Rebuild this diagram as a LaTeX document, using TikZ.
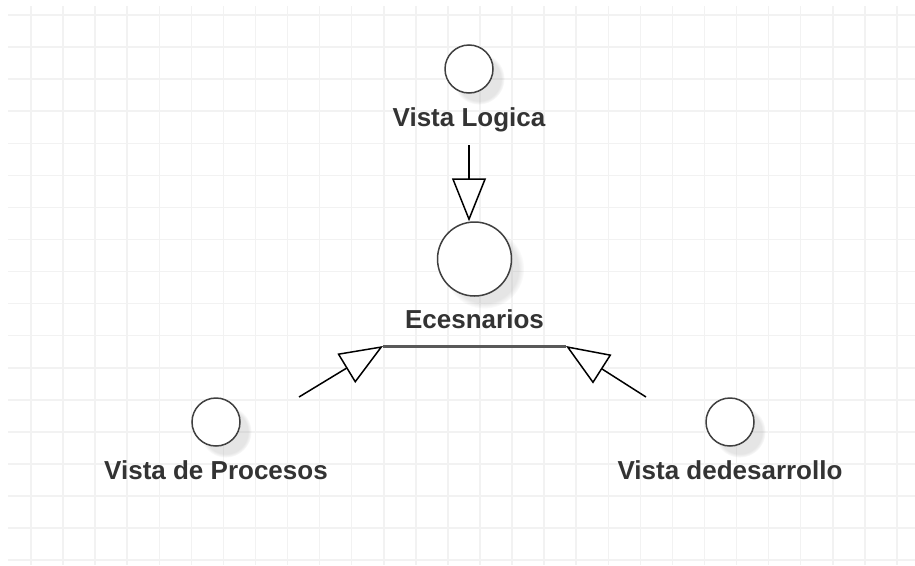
\documentclass[tikz,border=0pt]{standalone}
\usepackage{fontspec}
\setmainfont{Liberation Sans}
\usetikzlibrary{arrows.meta,shadows}

\begin{document}
\begin{tikzpicture}[x=1pt, y=-1pt,
    gridline/.style={draw=black!5, line width=1.5pt},
    view/.style={circle, draw=black!75, line width=1.5pt, fill=white, inner sep=0pt, minimum size=48pt,
        circular drop shadow={shadow xshift=9pt, shadow yshift=-9pt, shadow scale=1.08, opacity=0.2}},
    lbl/.style={font=\bfseries\fontsize{26}{30}\selectfont, text=black!80, inner sep=0pt, anchor=base},
    gen/.style={line width=1.5pt, -{Triangle[length=43pt, width=34pt, fill=white]}}]
    \useasboundingbox (0,0) rectangle (915,565);
    % Grid
    \fill[white] (0,0) rectangle (915,565);
    \foreach \k in {0,1,...,27} {
        \draw[gridline] ({31+32.07*\k},6) -- ({31+32.07*\k},565);
    }
    \foreach \k in {0,1,...,17} {
        \draw[gridline] (8,{15+32.07*\k}) -- (915,{15+32.07*\k});
    }

    % Views
    \node[view] (logica) at (469,69) {};
    \node[lbl] (logicaLbl) at (469,126) {Vista Logica};
    \node[view, minimum size=74pt] (escCircle) at (474.5,259) {};
    \node[lbl] (escLbl) at (474.5,328.5) {Ecesnarios};
    \node[view] (procesos) at (216,422) {};
    \node[lbl] (procesosLbl) at (216,479) {Vista de Procesos};
    \node[view] (desarrollo) at (730,422) {};
    \node[lbl] (desarrolloLbl) at (730,479) {Vista dedesarrollo};

    % Escenarios base
    \coordinate (escL) at (383,346);
    \coordinate (escR) at (566,346);
    \draw[black!65, line width=3pt] (escL) -- (escR);

    % Connections
    \coordinate (procesosEnd) at (299,397);
    \coordinate (desarrolloEnd) at (646,397);
    \draw[gen, shorten <=13.6pt] (logicaLbl.south) -- (logicaLbl.south |- escCircle.north);
    \draw[gen] (procesosEnd) -- (escL);
    \draw[gen] (desarrolloEnd) -- (escR);
\end{tikzpicture}
\end{document}
